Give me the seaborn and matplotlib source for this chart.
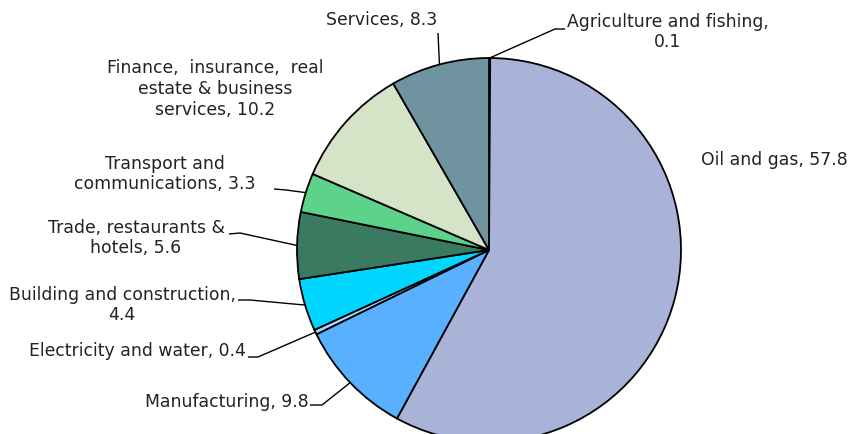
import numpy as np
import matplotlib
matplotlib.use("Agg")
import matplotlib.pyplot as plt
import seaborn as sns

sns.set_theme(style="white")
plt.rcParams['font.family'] = ['DejaVu Sans']

# GDP shares by sector (%)
sectors = ["Agriculture and fishing", "Oil and gas", "Manufacturing",
           "Electricity and water", "Building and construction",
           "Trade, restaurants & hotels", "Transport and communications",
           "Finance, insurance, real estate & business services", "Services"]
shares = [0.1, 57.8, 9.8, 0.4, 4.4, 5.6, 3.3, 10.2, 8.3]
label_texts = ["Agriculture and fishing,\n0.1", "Oil and gas, 57.8",
               "Manufacturing, 9.8", "Electricity and water, 0.4",
               "Building and construction,\n4.4", "Trade, restaurants &\nhotels, 5.6",
               "Transport and\ncommunications, 3.3",
               "Finance,  insurance,  real\nestate & business\nservices, 10.2",
               "Services, 8.3"]
colors = ["#4a5a6a", "#A9B3D8", "#58B0FF", "#A8D8FF", "#00D6FF",
          "#3A7A60", "#5CD28A", "#D5E4C6", "#6F949F"]

W, H = 851, 434
fig = plt.figure(figsize=(W / 100, H / 100), dpi=100)
ax = fig.add_axes([0, 0, 1, 1])
cx, cy, r = 489, H - 250, 192

ax.pie(shares, colors=colors, startangle=90, counterclock=False,
       center=(cx, cy), radius=r,
       wedgeprops=dict(edgecolor="black", linewidth=1.3))
ax.set_xlim(0, W)
ax.set_ylim(0, H)
ax.set_aspect("equal")
ax.axis("off")

# wedge mid-angles (clockwise from 12 o'clock)
total = sum(shares)
cum = np.cumsum([0] + shares)
mids = [(cum[i] + cum[i + 1]) / 2 / total * 2 * np.pi for i in range(len(shares))]

def edge_point(i):
    a = mids[i]
    return cx + r * np.sin(a), cy + r * np.cos(a)

# text centre (px, y from top) and leader elbow points
layout = {
    0: ((668, 32), [(555, 29), (565, 29)]),
    1: ((774, 160), None),
    2: ((227, 402), [(322, 405), (310, 405)]),
    3: ((137, 351), [(258, 357), (248, 357)]),
    4: ((122, 305), [(250, 300), (238, 300)]),
    5: ((136, 238), [(240, 233), (229, 234)]),
    6: ((165, 174), [(286, 190), (274, 189)]),
    7: ((215, 89), None),
    8: ((382, 20), [(438, 33)]),
}

for i, txt in enumerate(label_texts):
    (tx, ty), pts = layout[i]
    ax.text(tx, H - ty, txt, ha="center", va="center", fontsize=12.4,
            color="#222222", linespacing=1.2)
    if pts:
        ex, ey = edge_point(i)
        xs = [ex] + [p[0] for p in pts]
        ys = [ey] + [H - p[1] for p in pts]
        ax.plot(xs, ys, color="black", linewidth=1.0, solid_capstyle="butt")

fig.savefig("out.png", dpi=100, facecolor="white")
